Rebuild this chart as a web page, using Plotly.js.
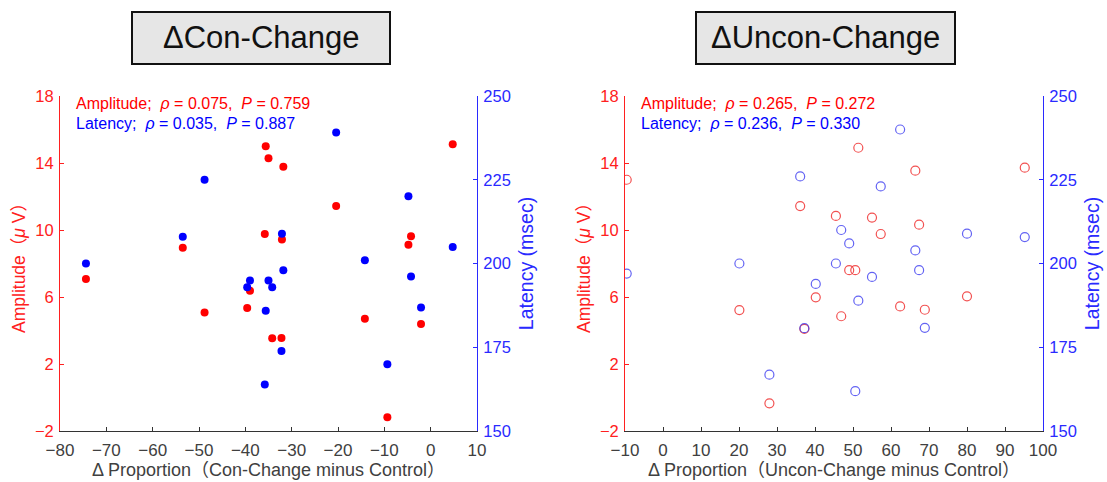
<!DOCTYPE html>
<html>
<head>
<meta charset="utf-8">
<script src="https://cdn.plot.ly/plotly-3.0.1.min.js"></script>
<style>
  html, body { margin: 0; padding: 0; background: #fff; }
  #chart { width: 1107px; height: 482px; }
</style>
</head>
<body>
<div id="chart"></div>
<script>
// ΔCon-Change: change in proportion vs. ERP amplitude / latency, per subject
const conDelta = [-74.4, -53.5, -48.8, -39.6, -39.0, -35.6, -35.8, -35.0, -34.2, -32.2,
                  -31.8, -32.1, -20.4, -14.2, -9.35, -4.8, -4.24, -2.08, 4.76];
const conAmplitude = [7.07, 8.94, 5.08, 5.34, 6.38, 15.0, 9.76, 14.28, 3.53, 3.55,
                      13.78, 9.44, 11.43, 4.70, -1.18, 9.12, 9.62, 4.39, 15.12];
const conLatency = [200, 208, 225, 192.9, 194.9, 185.9, 163.9, 194.9, 192.9, 173.9,
                    198, 208.9, 239.1, 201, 169.9, 220.1, 196.1, 186.9, 204.9];

// ΔUncon-Change
const unconDelta = [-9.55, 20.1, 28.0, 36.1, 37.2, 40.2, 45.5, 46.9, 49.0, 50.6,
                    51.4, 55.0, 57.3, 62.4, 66.4, 67.4, 68.9, 80.0, 95.2];
const unconAmplitude = [13.0, 5.22, -0.35, 11.43, 4.1, 5.98, 10.84, 4.85, 7.6, 7.6,
                        14.91, 10.74, 9.76, 5.44, 13.54, 10.32, 5.24, 6.04, 13.72];
const unconLatency = [197, 200, 166.8, 226, 180.7, 193.9, 200, 210, 206, 161.9,
                      188.9, 196, 223, 240, 203.9, 198, 180.8, 208.9, 207.9];

// Spearman statistics shown in each panel
const panelTitles = ['ΔCon-Change', 'ΔUncon-Change'];
const ampStats = [['0.075', '0.759'], ['0.265', '0.272']];
const latStats = [['0.035', '0.887'], ['0.236', '0.330']];

const ampTicks = [-2, 2, 6, 10, 14, 18];
const latTicks = [150, 175, 200, 225, 250];
const conTicks = [-80, -70, -60, -50, -40, -30, -20, -10, 0, 10];
const unconTicks = [-10, 0, 10, 20, 30, 40, 50, 60, 70, 80, 90, 100];

const W = 1107, H = 482;
const RED = '#ff0000', BLUE = '#0000ff';
const AX_RED = '#ff2020', AX_BLUE = '#2a2aff';
const ARIAL = '"Liberation Sans", Arial, "Noto Sans CJK JP", sans-serif';
const SP = '&nbsp;&nbsp;';

// panel geometry in pixels
const px = (x) => x / W;
const py = (y) => 1 - y / H;
const yDom = [py(431), py(96)];
const fmt = (t) => t < 0 ? '−' + (-t) : String(t);

const traces = [
  { x: conDelta, y: conAmplitude, xaxis: 'x', yaxis: 'y', type: 'scatter', mode: 'markers',
    marker: { color: RED, size: 8 } },
  { x: conDelta, y: conLatency, xaxis: 'x', yaxis: 'y2', type: 'scatter', mode: 'markers',
    marker: { color: BLUE, size: 8 } },
  { x: unconDelta, y: unconAmplitude, xaxis: 'x2', yaxis: 'y3', type: 'scatter', mode: 'markers',
    marker: { symbol: 'circle-open', color: 'rgba(240,50,50,0.85)', size: 9, line: { width: 1.2 } } },
  { x: unconDelta, y: unconLatency, xaxis: 'x2', yaxis: 'y4', type: 'scatter', mode: 'markers',
    marker: { symbol: 'circle-open', color: 'rgba(60,60,240,0.8)', size: 9, line: { width: 1.2 } } }
];

function xAxis(domain, range, ticks, title, anchor) {
  return {
    domain: domain, range: range, tickvals: ticks, ticktext: ticks.map(fmt),
    anchor: anchor, showgrid: false, zeroline: false, showline: true, linecolor: '#333', linewidth: 1,
    ticks: 'inside', ticklen: 4, tickcolor: '#333', mirror: false, ticklabelstandoff: 4,
    tickfont: { family: ARIAL, size: 17, color: '#404040' },
    title: { text: title, font: { family: ARIAL, size: 18, color: '#404040' }, standoff: 0 },
    automargin: false
  };
}
function ampAxis(anchor) {
  return {
    domain: yDom, range: [-2, 18], tickvals: ampTicks, ticktext: ampTicks.map(fmt),
    anchor: anchor, showgrid: false, zeroline: false, showline: true, linecolor: AX_RED, linewidth: 1,
    ticks: 'inside', ticklen: 4, tickcolor: AX_RED, ticklabelstandoff: 2,
    tickfont: { family: ARIAL, size: 16.5, color: AX_RED },
    title: { text: 'Amplitude（<i>μ</i> V）', font: { family: ARIAL, size: 17.5, color: AX_RED }, standoff: 4 },
    automargin: false
  };
}
function latAxis(anchor, over) {
  return {
    range: [150, 250], tickvals: latTicks, anchor: anchor, overlaying: over, side: 'right',
    showgrid: false, zeroline: false, showline: true, linecolor: AX_BLUE, linewidth: 1,
    ticks: 'inside', ticklen: 4, tickcolor: AX_BLUE, ticklabelstandoff: 2,
    tickfont: { family: ARIAL, size: 16.5, color: AX_BLUE },
    title: { text: 'Latency (msec)', font: { family: ARIAL, size: 19.5, color: AX_BLUE }, standoff: 9 },
    automargin: false
  };
}

const leftDom = [px(60), px(477)];
const rightDom = [px(625), px(1043)];

const annotations = [];
const shapes = [];
const boxes = [[132, 390], [696, 955]];
const toDom = (y) => (py(y) - yDom[0]) / (yDom[1] - yDom[0]);
[0, 1].forEach(i => {
  const [bx0, bx1] = boxes[i];
  shapes.push({ type: 'rect', xref: 'paper', yref: 'paper', x0: px(bx0), x1: px(bx1), y0: py(64), y1: py(12),
    fillcolor: '#e6e6e6', line: { color: '#111', width: 2 } });
  annotations.push({ xref: 'paper', yref: 'paper', x: px((bx0 + bx1) / 2), y: py(38), text: panelTitles[i],
    showarrow: false, xanchor: 'center', yanchor: 'middle', font: { family: ARIAL, size: 31, color: '#111' } });
  const xr = i === 0 ? 'x domain' : 'x2 domain';
  const yr = i === 0 ? 'y domain' : 'y3 domain';
  annotations.push({ xref: xr, yref: yr, x: 0.033, y: toDom(103), text:
    'Amplitude;' + SP + '<i>ρ</i> = ' + ampStats[i][0] + ',' + SP + '<i>P</i> = ' + ampStats[i][1],
    showarrow: false, xanchor: 'left', yanchor: 'middle', font: { family: ARIAL, size: 16, color: RED } });
  annotations.push({ xref: xr, yref: yr, x: 0.033, y: toDom(124), text:
    'Latency;' + SP + '<i>ρ</i> = ' + latStats[i][0] + ',' + SP + '<i>P</i> = ' + latStats[i][1],
    showarrow: false, xanchor: 'left', yanchor: 'middle', font: { family: ARIAL, size: 16, color: BLUE } });
});

const layout = {
  width: W, height: H, margin: { l: 0, r: 0, t: 0, b: 0 },
  paper_bgcolor: '#fff', plot_bgcolor: '#fff', showlegend: false,
  xaxis: xAxis(leftDom, [-80, 10], conTicks, 'Δ Proportion（Con-Change minus Control）', 'y'),
  yaxis: ampAxis('x'),
  yaxis2: latAxis('x', 'y'),
  xaxis2: xAxis(rightDom, [-10, 100], unconTicks, 'Δ Proportion（Uncon-Change minus Control）', 'y3'),
  yaxis3: ampAxis('x2'),
  yaxis4: latAxis('x2', 'y3'),
  shapes: shapes, annotations: annotations
};

Plotly.newPlot('chart', traces, layout, { staticPlot: true, displayModeBar: false });
</script>
</body>
</html>
